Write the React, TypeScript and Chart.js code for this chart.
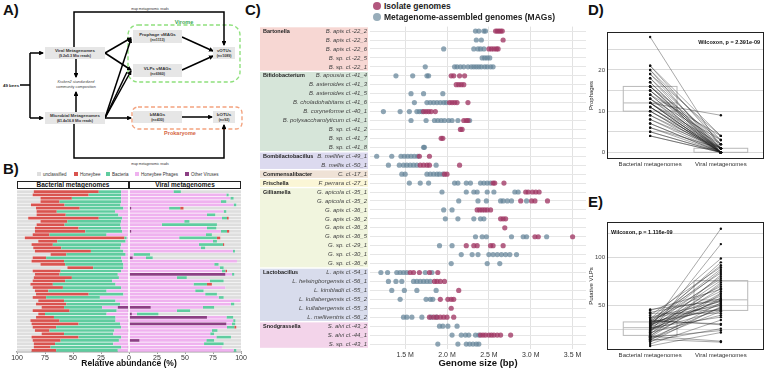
import React, { useEffect, useRef } from "react";
import { Chart, registerables } from "chart.js";
Chart.register(...registerables);

const FONT = "'Liberation Sans', 'DejaVu Sans', sans-serif";

// ---------------- Panel B data (relative abundance %, 49 bees) ----------------
const beeIds = [
  "b01","b02","b03","b04","b05","b06","b07","b08","b09","b10","b11","b12","b13","b14","b15","b16","b17",
  "b18","b19","b20","b21","b22","b23","b24","b25","b26","b27","b28","b29","b30","b31","b32","b33","b34",
  "b35","b36","b37","b38","b39","b40","b41","b42","b43","b44","b45","b46","b47","b48","b49",
];
const bactHoneybee = [58,50,28,17,30,39,18,26,63,24,25,39,45,15,89,17,19,25,50,14,12,29,22,23,25,22,34,29,20,27,12,47,12,23,27,20,33,6,16,26,42,21,13,20,42,25,19,15,22];
const bactBacteria = [20,29,44,55,50,39,52,47,21,48,50,38,33,51,2,61,61,53,29,53,67,52,52,27,54,52,42,42,56,52,52,31,48,46,48,34,42,55,55,50,37,58,58,44,38,52,52,63,55];
const bactPhages = [7,7,7,7,7.5,5,12.5,9.5,6,7,7.5,7,6,20,2,3,7,7.5,5,3,7,6,5,5,7,10,9,15,12,7,20,5,26,12,8,14,10,20,12,11,8,7,12,14,7,9,14,6,10];
const bactOther = [0,0,0,0,0,0,0,0,0,0,0,0,0,0,0,0,0,0,0,0,0,0,0,0,0,0,0,0,0,0,0,0,0,0,0,10,1,0,0,1,0,0,1,0,0,0,0,1,0];

const virOther = [0,0,0,0,0,2,0,0,0,0,0,0,2,0,0,0,0,0,0,0,3.3,0,0,0,0,86,0,0,0,0,0,0,0,0,0,19.4,0,2.5,69.6,0,86.9,0,0,0,0,9.3,0,0,0];
const virPhages = [39.7,86.9,90.5,82.1,93.4,33.8,84.5,69.6,83,49.3,29.3,69.6,80,68.7,44.8,75,62.4,64.2,92.8,4,11.9,96.4,76.1,80.9,83,6,42.7,72,57.6,86,59.1,68,80,99.4,91,46.6,42.7,4.5,17.4,93,5,87.5,74,72.5,78,59.7,67,83,93.4];
const virBacteria = [6.6,2.1,2.9,4.8,2.4,9.9,2.4,7.4,4.5,4.7,49.2,8.4,5.5,5.3,33.7,3.5,21.5,3.8,1.8,14.8,6,0,3.9,3.6,3,2,8.9,12.5,12,0,7.5,10.5,4.5,0,3,10,11.9,19.3,6,2,3,6.5,5,3.5,13,7,17.5,0,2.4];
const virHoneybee = [0,0,0,0,0,3,0,0,1.5,0,0,0,2,0,3,0,1.1,0,0,0,0,0,0,0,1.5,0,0,0,4.4,0,0,0,0,0,0,0,0,0,0,0,0,1.8,0,0,0,0,0,0,0];

const bColors: Record<string, string> = {
  unclassified: "#dedede",
  Honeybee: "#d9534f",
  Bacteria: "#5fcc9f",
  "Honeybee Phages": "#efb2ef",
  "Other Viruses": "#8c3f84",
};
const bTicks = [-100, -75, -50, -25, 0, 25, 50, 75, 100];

// ---------------- Panel C data (genome size, Mbp) ----------------
const cRows = [
  "B. apis cl.-22_2","B. apis cl.-22_3","B. apis cl.-22_6","B. sp. cl.-22_5","B. sp. cl.-22_1",
  "B. apousia cl.-41_4","B. asteroides cl.-41_3","B. asteroides cl.-41_5","B. choladohabitans cl.-41_6","B. coryneforme cl.-40_1","B. polysaccharolyticum cl.-41_1","B. sp. cl.-41_2","B. sp. cl.-41_7","B. sp. cl.-41_8",
  "B. mellifer cl.-49_1","B. mellis cl.-50_1",
  "C. cl.-17_1",
  "F. perrara cl.-27_1",
  "G. apicola cl.-35_1","G. apicola cl.-35_2","G. apis cl.-36_1","G. apis cl.-36_2","G. apis cl.-36_3","G. apis cl.-36_5","G. sp. cl.-29_1","G. sp. cl.-30_1","G. sp. cl.-36_4",
  "L. apis cl.-54_1","L. helsingborgensis cl.-56_1","L. kimbladii cl.-55_1","L. kullabergensis cl.-55_2","L. kullabergensis cl.-55_3","L. melliventris cl.-56_2",
  "S. alvi cl.-43_2","S. alvi cl.-44_1","S. sp. cl.-43_1",
];
const groupNames = ["Bartonella","Bifidobacterium","Bombilactobacillus","Commensalibacter","Frischella","Gilliamella","Lactobacillus","Snodgrassella"];
const groupSizes = [5, 9, 2, 1, 1, 9, 6, 3];
const groupColors = ["#f7d7d3","#d6e5d9","#dcdaef","#efe2d6","#fbf6d6","#f1f5de","#d8dcec","#f3d4ea"];

const isolateSizes: number[][] = [
  [2.58,2.6,2.62,2.64,2.66],
  [2.67],
  [2.5,2.53,2.56,2.59,2.61],
  [],
  [],
  [2.05,2.08,2.15,2.21],
  [2.11,2.14,2.17,2.2],
  [],
  [2.03,2.06,2.09,2.12,2.25],
  [1.72,1.75,1.78,1.81,1.86],
  [2.2,2.23,2.25],
  [2.16,2.18],
  [1.93,1.95],
  [],
  [1.67,1.79],
  [1.68,1.72,1.76,1.79,2.15],
  [1.97,2.0],
  [2.55,2.57,2.68],
  [2.94,2.97,3.02,3.06,3.1],
  [2.88,3.01,3.05,3.2],
  [2.36,2.39,2.42,2.45,2.48,2.52],
  [2.64,2.67,2.7],
  [2.69],
  [3.05,3.09,3.5],
  [2.23,2.32,2.36,2.52,2.55,2.67],
  [],
  [],
  [1.56,1.6,1.67,1.79,1.89],
  [1.85,1.88,1.92,1.97],
  [2.14],
  [1.92,2.01,2.05,2.08],
  [2.05],
  [1.79,1.84,1.88,1.92,1.96,2.0,2.08],
  [],
  [2.4,2.43,2.46,2.5,2.53,2.56,2.6,2.64,2.76],
  [],
];
const magSizes: number[][] = [
  [2.34,2.38,2.44,2.46],
  [2.35,2.41],
  [1.96,2.32,2.37,2.4,2.44],
  [2.42,2.45,2.48,2.51],
  [1.74,2.09,2.12,2.16,2.2,2.25,2.29,2.32,2.35,2.38,2.41,2.45,2.48,2.52,2.55],
  [1.39,1.59,1.76,1.78],
  [],
  [1.57,1.72,1.95],
  [1.61,1.76,1.8,1.84,1.88,1.92,1.96,1.99],
  [1.24,1.44,1.55,1.64,1.67,1.7],
  [1.57,1.75,1.85,1.89,1.93,1.97,2.02,2.06,2.13,2.27],
  [],
  [],
  [1.72,1.73],
  [1.16,1.34,1.45,1.49,1.53,1.57,1.61,1.65],
  [1.3,1.43,1.48,1.52,1.56,1.6,1.64,1.87],
  [1.46,1.5,1.76,1.8,1.84,1.88,1.91,1.95],
  [1.55,1.68,1.78,2.09,2.13,2.23,2.28,2.4,2.44,2.48,2.52],
  [1.94,2.23,2.32,2.36,2.48,2.56,2.81,2.85],
  [2.14,2.37,2.47,2.64,2.67,2.72,2.77,2.95],
  [1.96,2.06],
  [1.98,2.13,2.32,2.4,2.44],
  [],
  [2.34,2.42,2.47,2.77,2.91,2.95,3.19],
  [1.91,2.06],
  [2.17,2.3,2.37,2.5,2.55,2.6,2.65,2.7,2.75,2.83],
  [2.05,2.48,2.63],
  [1.21,1.29,1.4,1.44,1.48,1.52,1.74,1.82],
  [1.3,1.39,1.46,1.6,1.64,1.68,1.72,1.76,1.8],
  [1.34,1.49,1.64,1.87],
  [1.44,1.75,1.8,1.83],
  [],
  [1.48,1.52,1.58,1.7,1.81,1.87],
  [1.91,1.95,2.01,2.12],
  [2.06,2.17,2.22,2.26,2.34,2.38],
  [1.89,2.13,2.23,2.27,2.31,2.35,2.38],
];
const cTicks = [1.5, 2.0, 2.5, 3.0, 3.5];

// ---------------- Panels D & E data (per bee, paired) ----------------
const pairedGroups = ["Bacterial metagenomes", "Viral metagenomes"];
const prophageBacterial = [28,21,21,20,20,19,19,18,18,17,17,16,16,16,16,15,15,15,14,14,14,13,13,13,12,12,12,12,12,12,11,11,11,11,10,10,10,9,9,8,8,7,7,6,6,5,5,4,4];
const prophageViral = [1,4,2,3,0,4,1,0,2,1,0,3,0,1,0,2,0,1,4,0,0,1,0,3,9,0,1,0,0,2,0,1,0,0,1,0,0,1,0,0,1,0,0,0,1,0,0,0,0];
const vlpBacterial = [27,22,36,30,33,25,40,31,29,35,20,28,32,26,18,24,46,34,23,45,29,21,17,30,19,43,28,38,14,32,26,37,12,16,31,33,25,15,42,22,27,10,34,35,13,17,8,18,15];
const vlpViral = [130,114,99,95,92,56,90,88,86,84,82,80,78,76,74,72,55,70,68,67,65,63,62,60,58,57,55,54,53,52,51,50,49,48,47,46,45,44,42,40,38,35,31,30,26,24,22,13,12];
const prophageTicks = [0, 5, 10, 15, 20, 25];
const vlpTicks = [25, 50, 75, 100, 125];

// ---------------- helpers ----------------
function quantile(values: number[], p: number) {
  const s = [...values].sort((a, b) => a - b);
  const pos = (s.length - 1) * p;
  const lo = Math.floor(pos);
  const hi = Math.ceil(pos);
  return s[lo] + (s[hi] - s[lo]) * (pos - lo);
}

function ChartCanvas({ left, top, width, height, make }: any) {
  const ref = useRef<HTMLCanvasElement>(null);
  useEffect(() => {
    const chart = new Chart(ref.current as HTMLCanvasElement, make());
    return () => chart.destroy();
  }, []);
  return (
    <canvas
      ref={ref}
      width={width}
      height={height}
      style={{ position: "absolute", left, top, width, height }}
    />
  );
}

// ---------------- Panel B config ----------------
function makeB() {
  const unclassBact = beeIds.map((_, i) => 100 - bactHoneybee[i] - bactBacteria[i] - bactPhages[i] - bactOther[i]);
  const unclassVir = beeIds.map((_, i) => 100 - virHoneybee[i] - virBacteria[i] - virPhages[i] - virOther[i]);
  const leftSeries: Record<string, number[]> = {
    "Other Viruses": bactOther,
    "Honeybee Phages": bactPhages,
    Bacteria: bactBacteria,
    Honeybee: bactHoneybee,
    unclassified: unclassBact,
  };
  const rightSeries: Record<string, number[]> = {
    "Other Viruses": virOther,
    "Honeybee Phages": virPhages,
    Bacteria: virBacteria,
    Honeybee: virHoneybee,
    unclassified: unclassVir,
  };
  const order = ["Other Viruses", "Honeybee Phages", "Bacteria", "Honeybee", "unclassified"];
  const datasets: any[] = [];
  order.forEach((k) => {
    datasets.push({
      label: k + " (bacterial)",
      data: leftSeries[k].map((v) => -v),
      backgroundColor: bColors[k],
      stack: "s",
      barPercentage: 0.82,
      categoryPercentage: 1,
      borderWidth: 0,
    });
    datasets.push({
      label: k + " (viral)",
      data: rightSeries[k],
      backgroundColor: bColors[k],
      stack: "s",
      barPercentage: 0.82,
      categoryPercentage: 1,
      borderWidth: 0,
    });
  });
  const zeroLine = {
    id: "zeroLine",
    afterDatasetsDraw(chart: any) {
      const { ctx, chartArea } = chart;
      const x = chart.scales.x.getPixelForValue(0);
      ctx.save();
      ctx.strokeStyle = "#ffffff";
      ctx.lineWidth = 1.5;
      ctx.beginPath();
      ctx.moveTo(x, chartArea.top);
      ctx.lineTo(x, chartArea.bottom);
      ctx.stroke();
      ctx.restore();
    },
  };
  return {
    type: "bar",
    data: { labels: beeIds, datasets },
    plugins: [zeroLine],
    options: {
      indexAxis: "y",
      animation: false,
      responsive: false,
      layout: { padding: { left: 17, right: 9, top: 10, bottom: 0 } },
      plugins: { legend: { display: false }, tooltip: { enabled: false } },
      scales: {
        x: {
          stacked: true,
          min: -100,
          max: 100,
          afterBuildTicks: (s: any) => {
            s.ticks = bTicks.map((v) => ({ value: v }));
          },
          afterFit: (s: any) => {
            s.height = 17;
          },
          ticks: {
            callback: (v: any) => String(Math.abs(v)),
            font: { size: 7, family: FONT },
            color: "#333",
            padding: 0,
            maxRotation: 0,
          },
          grid: { drawOnChartArea: false, drawTicks: true, tickLength: 2, color: "#999" },
          border: { display: true, color: "#a0a0a0", width: 1.5 },
          title: {
            display: true,
            text: "Relative abundance (%)",
            font: { size: 8.5, family: FONT, weight: "bold" },
            color: "#111",
            padding: 0,
          },
        },
        y: { stacked: true, display: false, grid: { display: false } },
      },
    },
  };
}

// ---------------- Panel C config ----------------
function makeC() {
  const isoPts = cRows.flatMap((r, i) => isolateSizes[i].map((x) => ({ x, y: r })));
  const magPts = cRows.flatMap((r, i) => magSizes[i].map((x) => ({ x, y: r })));
  const bands = {
    id: "bands",
    beforeDraw(chart: any) {
      const { ctx } = chart;
      const y = chart.scales.y;
      const half = (y.getPixelForValue(1) - y.getPixelForValue(0)) / 2;
      let start = 0;
      ctx.save();
      groupNames.forEach((g, gi) => {
        const end = start + groupSizes[gi] - 1;
        const t = y.getPixelForValue(start) - half + 0.7;
        const b = y.getPixelForValue(end) + half - 0.7;
        ctx.fillStyle = groupColors[gi];
        ctx.fillRect(15, t, 108, b - t);
        ctx.fillStyle = "#222";
        ctx.font = `bold 5.5px ${FONT}`;
        ctx.textBaseline = "middle";
        ctx.textAlign = "left";
        ctx.fillText(g, 18, y.getPixelForValue(start));
        start = end + 1;
      });
      ctx.restore();
    },
  };
  return {
    type: "scatter",
    data: {
      datasets: [
        {
          label: "Isolate genomes",
          data: isoPts,
          backgroundColor: "rgba(160,55,100,0.78)",
          pointRadius: 2.6,
          borderWidth: 0,
        },
        {
          label: "Metagenome-assembled genomes (MAGs)",
          data: magPts,
          backgroundColor: "rgba(100,132,152,0.72)",
          pointRadius: 2.6,
          borderWidth: 0,
        },
      ],
    },
    plugins: [bands],
    options: {
      animation: false,
      responsive: false,
      layout: { padding: { left: 0, right: 3, top: 5.5, bottom: 0 } },
      plugins: { legend: { display: false }, tooltip: { enabled: false } },
      scales: {
        x: {
          type: "linear",
          min: 1.08,
          max: 3.66,
          afterBuildTicks: (s: any) => {
            s.ticks = cTicks.map((v) => ({ value: v }));
          },
          afterFit: (s: any) => {
            s.height = 20.5;
          },
          ticks: {
            callback: (v: any) => Number(v).toFixed(1) + " M",
            font: { size: 7, family: FONT },
            color: "#333",
            padding: 2,
          },
          grid: { color: "#e2e2e2", drawTicks: false },
          border: { display: false },
          title: {
            display: true,
            text: "Genome size (bp)",
            font: { size: 9.5, family: FONT, weight: "bold" },
            color: "#111",
            padding: 0,
          },
        },
        y: {
          type: "category",
          labels: cRows,
          offset: true,
          afterFit: (s: any) => {
            s.width = 125;
          },
          ticks: {
            font: { size: 6, family: FONT, style: "italic" },
            color: "#444",
            padding: 3,
            autoSkip: false,
          },
          grid: { offset: false, color: "#e6e6e6", drawTicks: false },
          border: { display: false },
        },
      },
    },
  };
}

// ---------------- Panels D / E config ----------------
function makePaired(
  bac: number[],
  vir: number[],
  yMin: number,
  yMax: number,
  ticks: number[],
  labelEvery: number,
  yTitle: string,
  pText: string,
  pAlign: "left" | "right"
) {
  const pts: any[] = [];
  bac.forEach((b, i) => {
    pts.push({ x: 1, y: b });
    pts.push({ x: 2, y: vir[i] });
    pts.push({ x: 1.5, y: null });
  });
  const boxes = {
    id: "boxes",
    beforeDatasetsDraw(chart: any) {
      const { ctx } = chart;
      const xs = chart.scales.x;
      const ys = chart.scales.y;
      ctx.save();
      ctx.strokeStyle = "#b8b8b8";
      ctx.lineWidth = 1;
      [bac, vir].forEach((vals, gi) => {
        const pos = gi + 1;
        const q1 = quantile(vals, 0.25);
        const med = quantile(vals, 0.5);
        const q3 = quantile(vals, 0.75);
        const x0 = xs.getPixelForValue(pos - 0.38);
        const x1 = xs.getPixelForValue(pos + 0.38);
        const yt = ys.getPixelForValue(q3);
        const yb = ys.getPixelForValue(q1);
        ctx.strokeRect(x0, yt, x1 - x0, yb - yt);
        const ym = ys.getPixelForValue(med);
        ctx.beginPath();
        ctx.moveTo(x0, ym);
        ctx.lineTo(x1, ym);
        ctx.stroke();
      });
      ctx.restore();
    },
    afterDraw(chart: any) {
      const { ctx, chartArea } = chart;
      ctx.save();
      ctx.strokeStyle = "#222";
      ctx.lineWidth = 1;
      ctx.strokeRect(chartArea.left + 0.5, chartArea.top + 0.5, chartArea.width - 1, chartArea.height - 1);
      ctx.fillStyle = "#111";
      ctx.font = `bold 5.5px ${FONT}`;
      ctx.textBaseline = "middle";
      ctx.textAlign = pAlign;
      const tx = pAlign === "right" ? chartArea.right - 4 : chartArea.left + 4;
      ctx.fillText(pText, tx, chartArea.top + 10);
      ctx.restore();
    },
  };
  return {
    type: "line",
    data: {
      datasets: [
        {
          label: yTitle,
          data: pts,
          borderColor: "rgba(30,30,30,0.55)",
          borderWidth: 0.7,
          pointRadius: 1.2,
          pointBackgroundColor: "#111",
          pointBorderWidth: 0,
          spanGaps: false,
        },
      ],
    },
    plugins: [boxes],
    options: {
      animation: false,
      responsive: false,
      layout: { padding: { left: 0, right: 2, top: 12, bottom: 0 } },
      plugins: { legend: { display: false }, tooltip: { enabled: false } },
      scales: {
        x: {
          type: "linear",
          min: 0.39,
          max: 2.61,
          afterBuildTicks: (s: any) => {
            s.ticks = [{ value: 1 }, { value: 2 }];
          },
          afterFit: (s: any) => {
            s.height = 11;
          },
          ticks: {
            callback: (v: any) => pairedGroups[Number(v) - 1],
            font: { size: 6, family: FONT },
            color: "#333",
            padding: 2,
            maxRotation: 0,
            autoSkip: false,
          },
          grid: { display: false, drawTicks: false },
          border: { display: false },
        },
        y: {
          type: "linear",
          min: yMin,
          max: yMax,
          afterBuildTicks: (s: any) => {
            s.ticks = ticks.map((v) => ({ value: v }));
          },
          afterFit: (s: any) => {
            s.width = 19;
          },
          ticks: {
            callback: (v: any) => (Number(v) % labelEvery === 0 ? String(v) : ""),
            font: { size: 6, family: FONT },
            color: "#444",
            padding: 2,
          },
          grid: { color: "#d9d9d9", drawTicks: false },
          border: { display: false },
          title: {
            display: true,
            text: yTitle,
            font: { size: 6, family: FONT },
            color: "#222",
            padding: 0,
          },
        },
      },
    },
  };
}

// ---------------- Panel A flowchart ----------------
function FlowA() {
  const box = (x: number, y: number, w: number, h: number, l1: string, l2: string) => (
    <g>
      <rect x={x} y={y} width={w} height={h} fill="#e6e6e6" />
      <text x={x + w / 2} y={y + h / 2 - 0.6} textAnchor="middle" fontSize={4.4} fontWeight="bold" fill="#333">
        {l1}
      </text>
      <text x={x + w / 2} y={y + h / 2 + 4.2} textAnchor="middle" fontSize={3.6} fontWeight="bold" fill="#333">
        {l2}
      </text>
    </g>
  );
  const line = { stroke: "#000", strokeWidth: 1.5, fill: "none" } as any;
  return (
    <svg width={250} height={170} style={{ position: "absolute", left: 0, top: 0 }} fontFamily={FONT}>
      <defs>
        <marker id="ah" markerWidth="3.2" markerHeight="3.2" refX="2.6" refY="1.6" orient="auto" markerUnits="strokeWidth">
          <path d="M0,0 L3.2,1.6 L0,3.2 z" fill="#000" />
        </marker>
      </defs>
      <rect x={128} y={25} width={112} height={57} rx={10} fill="none" stroke="#8ee07c" strokeWidth={1.4} strokeDasharray="4 2.5" />
      <text x={184} y={23.5} textAnchor="middle" fontSize={5.5} fontWeight="bold" fill="#3aa655">Virome</text>
      <rect x={132} y={107} width={110} height={22} rx={6} fill="none" stroke="#f3a37f" strokeWidth={1.4} strokeDasharray="4 2.5" />
      <text x={180} y={135} textAnchor="middle" fontSize={5.5} fontWeight="bold" fill="#d5643f">Prokaryome</text>

      <path d="M20,85 H30 M30,53 V118" {...line} />
      <path d="M30,53 H43" {...line} markerEnd="url(#ah)" />
      <path d="M30,118 H43" {...line} markerEnd="url(#ah)" />
      <path d="M74,47 V12 H224 V45" {...line} markerEnd="url(#ah)" />
      <path d="M74,124 V158 H224 V125" {...line} markerEnd="url(#ah)" />
      <path d="M76,59 V77" {...line} markerEnd="url(#ah)" />
      <path d="M76,112 V92" {...line} markerEnd="url(#ah)" />
      <path d="M105,53 L131,38" {...line} markerEnd="url(#ah)" />
      <path d="M105,53 L131,70" {...line} markerEnd="url(#ah)" />
      <path d="M105,118 L131,39" {...line} markerEnd="url(#ah)" />
      <path d="M105,118 L131,71" {...line} markerEnd="url(#ah)" />
      <path d="M105,118 L127,72" {...line} />
      <path d="M105,118 H131" {...line} markerEnd="url(#ah)" />
      <path d="M182,37 L213,51" {...line} markerEnd="url(#ah)" />
      <path d="M182,70 L213,56" {...line} markerEnd="url(#ah)" />
      <path d="M182,117 H212" {...line} markerEnd="url(#ah)" />

      <text x={150} y={9.5} textAnchor="middle" fontSize={3.4} fill="#333">map metagenomic reads</text>
      <text x={150} y={164.5} textAnchor="middle" fontSize={3.4} fill="#333">map metagenomic reads</text>
      <text x={3} y={86.5} fontSize={4.4} fontWeight="bold" fill="#222">49 bees</text>
      <text x={76} y={83} textAnchor="middle" fontSize={3.8} fontStyle="italic" fill="#444">Kraken2 standardized</text>
      <text x={76} y={88} textAnchor="middle" fontSize={3.8} fill="#444">community composition</text>

      {box(45, 47, 60, 12, "Viral Metagenomes", "(9.2±5.3 Mio reads)")}
      {box(45, 112, 60, 12, "Microbial Metagenomes", "(61.4±16.8 Mio reads)")}
      {box(133, 30, 49, 13, "Prophage vMAGs", "(n=1113)")}
      {box(133, 64, 49, 13, "VLPs vMAGs", "(n=6960)")}
      {box(213, 47, 22, 12, "vOTUs", "(n=1089)")}
      {box(133, 111, 49, 12, "bMAGs", "(n=430)")}
      {box(213, 111, 22, 12, "bOTUs", "(n=92)")}
    </svg>
  );
}

const panelLabel = (t: string, left: number, top: number) => (
  <div
    style={{
      position: "absolute",
      left,
      top,
      font: `bold 15px ${FONT}`,
      color: "#111",
      lineHeight: "16px",
    }}
  >
    {t}
  </div>
);

export default function App() {
  const legendB = [
    { k: "unclassified", x: 37 },
    { k: "Honeybee", x: 74 },
    { k: "Bacteria", x: 106 },
    { k: "Honeybee Phages", x: 135 },
    { k: "Other Viruses", x: 185 },
  ];
  const header = (text: string, left: number, width: number) => (
    <div
      style={{
        position: "absolute",
        left,
        top: 181,
        width,
        height: 8,
        boxSizing: "border-box",
        border: "1px solid #222",
        background: "#fff",
        font: `bold 6.5px ${FONT}`,
        lineHeight: "6px",
        textAlign: "center",
        color: "#111",
      }}
    >
      {text}
    </div>
  );
  return (
    <div style={{ position: "absolute", left: 0, top: 0, width: 768, height: 369, background: "#fff", overflow: "hidden" }}>
      <FlowA />
      {panelLabel("A)", 3, 2)}
      {panelLabel("B)", 3, 161)}
      {panelLabel("C)", 245, 2)}
      {panelLabel("D)", 588, 2)}
      {panelLabel("E)", 588, 194)}

      {legendB.map((l) => (
        <div key={l.k} style={{ position: "absolute", left: l.x, top: 171.5, height: 5, display: "flex", alignItems: "center", whiteSpace: "nowrap" }}>
          <span style={{ display: "inline-block", width: 4, height: 4, background: bColors[l.k], marginRight: 2 }} />
          <span style={{ font: `4.5px ${FONT}`, color: "#333" }}>{l.k}</span>
        </div>
      ))}
      <ChartCanvas left={0} top={180} width={250} height={189} make={makeB} />
      {header("Bacterial metagenomes", 17, 112)}
      {header("Viral metagenomes", 129, 112)}

      <div style={{ position: "absolute", left: 373, top: 1.5, height: 9, display: "flex", alignItems: "center", whiteSpace: "nowrap" }}>
        <span style={{ display: "inline-block", width: 8, height: 8, borderRadius: 4, background: "#b2577e", marginRight: 3 }} />
        <span style={{ font: `bold 8.5px ${FONT}`, color: "#222" }}>Isolate genomes</span>
      </div>
      <div style={{ position: "absolute", left: 373, top: 12, height: 9, display: "flex", alignItems: "center", whiteSpace: "nowrap" }}>
        <span style={{ display: "inline-block", width: 8, height: 8, borderRadius: 4, background: "#98adba", marginRight: 3 }} />
        <span style={{ font: `bold 8.5px ${FONT}`, color: "#222" }}>Metagenome-assembled genomes (MAGs)</span>
      </div>
      <ChartCanvas left={245} top={20} width={345} height={349} make={makeC} />

      <ChartCanvas
        left={588}
        top={20}
        width={180}
        height={150}
        make={() =>
          makePaired(prophageBacterial, prophageViral, -1.6, 29.2, prophageTicks, 10, "Prophages", "Wilcoxon, p = 2.391e-09", "right")
        }
      />
      <ChartCanvas
        left={588}
        top={210}
        width={180}
        height={151}
        make={() =>
          makePaired(vlpBacterial, vlpViral, 3.8, 137, vlpTicks, 50, "Putative VLPs", "Wilcoxon, p = 1.116e-09", "left")
        }
      />
    </div>
  );
}
